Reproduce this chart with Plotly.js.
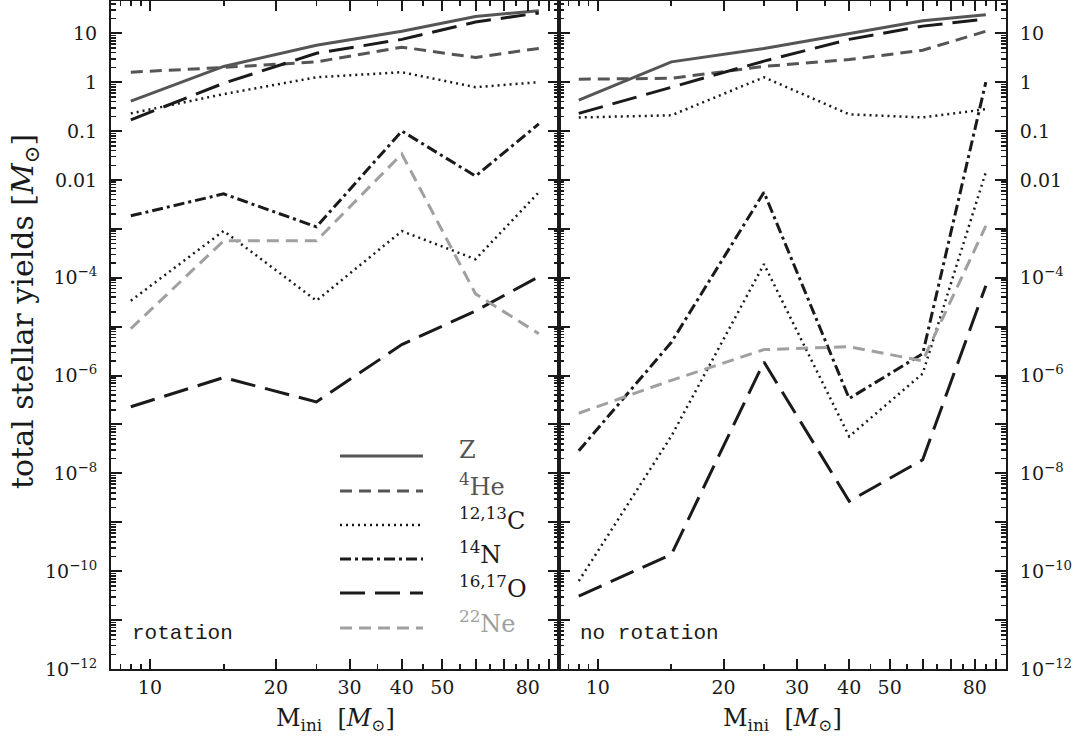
<!DOCTYPE html>
<html>
<head>
<meta charset="utf-8">
<script src="https://cdn.plot.ly/plotly-3.0.1.min.js"></script>
<style>
  html, body { margin: 0; padding: 0; background: #fff; }
  #yields { width: 1076px; height: 736px; }
</style>
</head>
<body>
<div id="yields"></div>
<script>
// initial masses of the models [Msun]
let masses = [9, 15, 25, 40, 60, 85];

// rotating models
let rotZ    = [0.41, 2.1, 5.7, 11, 22, 29];
let rotHe4  = [1.6, 2.0, 2.6, 5.2, 3.2, 4.9];
let rotC12  = [0.23, 0.57, 1.26, 1.6, 0.79, 1.0];
let rotC13  = [3.4e-5, 9.1e-4, 3.4e-5, 9e-4, 2.4e-4, 5.6e-3];
let rotN14  = [1.85e-3, 5.2e-3, 1.1e-3, 0.1, 0.012, 0.14];
let rotO16  = [0.17, 0.95, 3.9, 7.5, 17, 26];
let rotO17  = [2.3e-7, 9.1e-7, 2.9e-7, 4.3e-6, 2.1e-5, 1.05e-4];
let rotNe22 = [9.1e-6, 5.7e-4, 5.7e-4, 0.034, 4.7e-5, 7.2e-6];

// non-rotating models
let norZ    = [0.43, 2.6, 4.9, 10, 18, 24];
let norHe4  = [1.15, 1.2, 2.1, 2.9, 4.5, 11];
let norC12  = [0.19, 0.21, 1.26, 0.22, 0.19, 0.28];
let norC13  = [6.3e-11, 5.8e-8, 1.9e-4, 5.7e-8, 1.1e-6, 0.0145];
let norN14  = [2.9e-8, 4.8e-6, 5.6e-3, 3.4e-7, 2.8e-6, 1.0];
let norO16  = [0.23, 0.8, 2.7, 7.5, 14, 19.5];
let norO17  = [3.1e-11, 2.2e-10, 1.9e-6, 2.7e-9, 1.9e-8, 6.9e-5];
let norNe22 = [1.7e-7, 8e-7, 3.4e-6, 3.9e-6, 2e-6, 1.15e-3];

// legend entries and their line styles
let labels = ["Z", "<sup>4</sup>He", "<sup>12,13</sup>C", "<sup>14</sup>N", "<sup>16,17</sup>O", "<sup>22</sup>Ne"];
let colors = ["#555555", "#555555", "#1a1a1a", "#1a1a1a", "#1a1a1a", "#a0a0a0"];
let dashes = ["solid", "12px,7px", "2px,4px", "11px,4px,3px,4px", "25px,10px", "12px,7px"];

// x ticks
let xMajor = [10, 20, 30, 40, 50, 60, 70, 80, 90];
let xMajorText = ["10", "20", "30", "40", "50", "", "", "80", ""];
let xMinor = [8.5, 9, 9.5, 15, 25, 35, 45, 55, 65, 75, 85];

// y ticks (every decade, labels as in the figure)
let yExp = [1, 0, -1, -2, -3, -4, -5, -6, -7, -8, -9, -10, -11, -12];
let yText = ["10", "1", "0.1", "0.01", "", "10<sup>\u22124</sup>", "", "10<sup>\u22126</sup>", "",
             "10<sup>\u22128</sup>", "", "10<sup>\u221210</sup>", "", "10<sup>\u221212</sup>"];

const W = 1076, H = 736;
const px = v => v / W;
const py = v => 1 - v / H;

let rotSeries = [rotZ, rotHe4, rotC12, rotC13, rotN14, rotO16, rotO17, rotNe22];
let norSeries = [norZ, norHe4, norC12, norC13, norN14, norO16, norO17, norNe22];
let styleOf = [0, 1, 2, 2, 3, 4, 4, 5];

let data = [];
function addPanel(series, xa, ya) {
    series.forEach((ys, i) => {
        let s = styleOf[i];
        data.push({
            x: masses, y: ys, xaxis: xa, yaxis: ya,
            type: 'scatter', mode: 'lines',
            line: { color: colors[s], width: s == 2 ? 2.5 : 3, dash: dashes[s] },
            hoverinfo: 'skip', showlegend: false
        });
    });
}
addPanel(rotSeries, 'x', 'y');
addPanel(norSeries, 'x2', 'y2');
// empty traces so the overlaid minor-tick axes get drawn
data.push({ x: [], y: [], xaxis: 'x3', yaxis: 'y3', type: 'scatter', mode: 'lines', showlegend: false });
data.push({ x: [], y: [], xaxis: 'x4', yaxis: 'y4', type: 'scatter', mode: 'lines', showlegend: false });

let yMinor = [];
for (let k = -12; k <= 1; k++) {
    for (let m = 2; m <= 9; m++) {
        if (m * Math.pow(10, k) < 46) yMinor.push(m * Math.pow(10, k));
    }
}

let ink = '#1a1a1a';
let tickFont = { family: 'DejaVu Serif, serif', size: 19, color: ink };
let xRange = [Math.log10(8.07), Math.log10(95)];
let yRange = [-12, 1.66];
let yDom = [py(669), py(1)];

function xAxis(dom, anchor) {
    return {
        type: 'log', range: xRange, domain: dom, anchor: anchor,
        tickmode: 'array', tickvals: xMajor, ticktext: xMajorText,
        ticks: 'inside', ticklen: 10, tickwidth: 2, tickcolor: ink,
        ticklabelstandoff: 0,
        showline: true, linewidth: 2, linecolor: ink, mirror: 'allticks',
        showgrid: false, zeroline: false, tickfont: tickFont
    };
}
function xMinorAxis(dom, anchor, over) {
    return {
        type: 'log', range: xRange, domain: dom, anchor: anchor, overlaying: over,
        tickmode: 'array', tickvals: xMinor, showticklabels: false,
        ticks: 'inside', ticklen: 5, tickwidth: 1.8, tickcolor: ink,
        showline: false, mirror: 'allticks', showgrid: false, zeroline: false
    };
}
function yAxis(anchor, side) {
    return {
        type: 'log', range: yRange, domain: yDom, anchor: anchor, side: side,
        tickmode: 'array', tickvals: yExp.map(e => Math.pow(10, e)), ticktext: yText,
        ticks: 'inside', ticklen: 11, tickwidth: 2, tickcolor: ink,
        ticklabelstandoff: 8,
        showline: true, linewidth: 2, linecolor: ink, mirror: 'allticks',
        showgrid: false, zeroline: false, tickfont: tickFont
    };
}
function yMinorAxis(anchor, side, over) {
    return {
        type: 'log', range: yRange, domain: yDom, anchor: anchor, side: side, overlaying: over,
        tickmode: 'array', tickvals: yMinor, showticklabels: false,
        ticks: 'inside', ticklen: 5, tickwidth: 1.5, tickcolor: ink,
        showline: false, mirror: 'allticks', showgrid: false, zeroline: false
    };
}

// hand-drawn legend inside the left panel
let shapes = [];
let annotations = [];
let legY = [456, 491, 525, 559, 593, 628];
labels.forEach((lab, i) => {
    shapes.push({
        type: 'line', xref: 'paper', yref: 'paper',
        x0: px(340), x1: px(423), y0: py(legY[i]), y1: py(legY[i]),
        line: { color: colors[i], width: i == 2 ? 2.5 : 3, dash: dashes[i] }
    });
    annotations.push({
        xref: 'paper', yref: 'paper', x: px(457), y: py(legY[i] - 6),
        xanchor: 'left', yanchor: 'middle', showarrow: false,
        text: lab, font: { family: 'DejaVu Serif, serif', size: 24, color: colors[i] }
    });
});

let monoFont = { family: 'Liberation Mono, monospace', size: 21, color: ink };
annotations.push(
    { xref: 'paper', yref: 'paper', x: px(130), y: py(633), xanchor: 'left', yanchor: 'middle',
      showarrow: false, text: 'rotation', font: monoFont },
    { xref: 'paper', yref: 'paper', x: px(578), y: py(633), xanchor: 'left', yanchor: 'middle',
      showarrow: false, text: 'no rotation', font: monoFont }
);

let titleFont = { family: 'DejaVu Serif, serif', size: 24, color: ink };
let xTitle = 'M<sub>ini</sub>  [<i>M</i><sub>\u2299</sub>]';
annotations.push(
    { xref: 'paper', yref: 'paper', x: px(335), y: py(719), xanchor: 'center', yanchor: 'middle',
      showarrow: false, text: xTitle, font: titleFont },
    { xref: 'paper', yref: 'paper', x: px(782), y: py(719), xanchor: 'center', yanchor: 'middle',
      showarrow: false, text: xTitle, font: titleFont },
    { xref: 'paper', yref: 'paper', x: px(24), y: py(312), xanchor: 'center', yanchor: 'middle',
      showarrow: false, textangle: -90, text: 'total stellar yields [<i>M</i><sub>\u2299</sub>]',
      font: { family: 'DejaVu Serif, serif', size: 30, color: ink } }
);

let layout = {
    width: W, height: H,
    margin: { l: 0, r: 0, t: 0, b: 0 },
    paper_bgcolor: '#fff', plot_bgcolor: '#fff',
    showlegend: false,
    xaxis: xAxis([px(111), px(559)], 'y'),
    xaxis2: xAxis([px(559), px(1006)], 'y2'),
    xaxis3: xMinorAxis([px(111), px(559)], 'y3', 'x'),
    xaxis4: xMinorAxis([px(559), px(1006)], 'y4', 'x2'),
    yaxis: yAxis('x', 'left'),
    yaxis2: yAxis('x2', 'right'),
    yaxis3: yMinorAxis('x3', 'left', 'y'),
    yaxis4: yMinorAxis('x4', 'right', 'y2'),
    shapes: shapes,
    annotations: annotations
};

Plotly.newPlot('yields', data, layout, { displayModeBar: false, staticPlot: true });
</script>
</body>
</html>
